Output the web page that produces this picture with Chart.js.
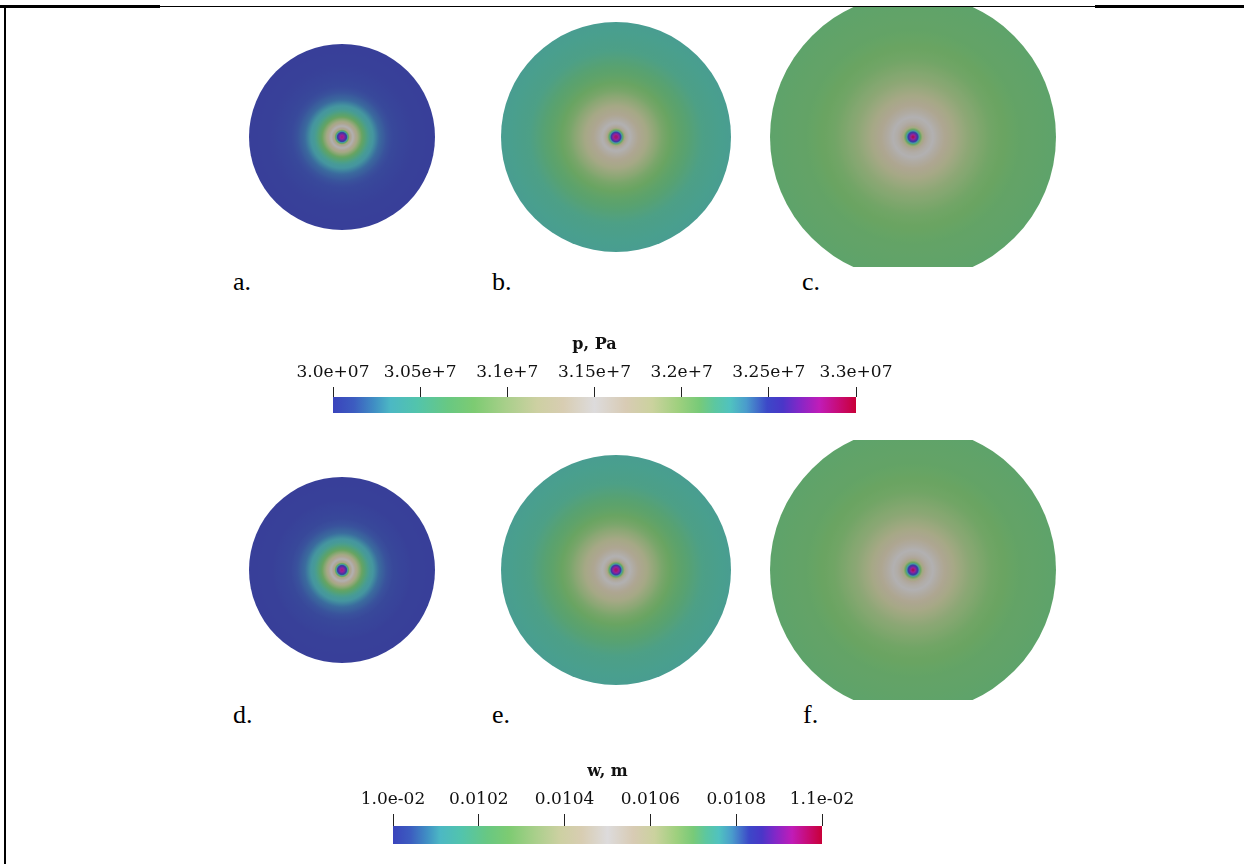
<!DOCTYPE html>
<html>
<head>
<meta charset="utf-8">
<script src="https://cdn.jsdelivr.net/npm/chart.js@4.4.1/dist/chart.umd.min.js"></script>
<style>
  body { margin: 0; width: 1244px; height: 864px; background: #fff; position: relative; overflow: hidden; font-family: "Liberation Serif", serif; }
  canvas { position: absolute; }
  .lbl { position: absolute; font-size: 26px; line-height: 26px; color: #000; }
  .rule { position: absolute; background: #000; }
</style>
</head>
<body>
<div class="rule" style="left:4px;top:5px;width:2px;height:859px"></div>
<div class="rule" style="left:0;top:6px;width:1244px;height:1px"></div>
<div class="rule" style="left:0;top:5px;width:160px;height:3px"></div>
<div class="rule" style="left:1095px;top:5px;width:149px;height:3px"></div>

<canvas id="diskA" width="186" height="186" style="left:249px;top:44px"></canvas>
<canvas id="diskB" width="230" height="230" style="left:501px;top:22px"></canvas>
<canvas id="diskC" width="286" height="260" style="left:770px;top:7px"></canvas>
<canvas id="diskD" width="186" height="186" style="left:249px;top:477px"></canvas>
<canvas id="diskE" width="230" height="230" style="left:501px;top:455px"></canvas>
<canvas id="diskF" width="286" height="260" style="left:770px;top:440px"></canvas>

<div class="lbl" style="left:233px;top:269px">a.</div>
<div class="lbl" style="left:492px;top:269px">b.</div>
<div class="lbl" style="left:802px;top:269px">c.</div>
<div class="lbl" style="left:233px;top:702px">d.</div>
<div class="lbl" style="left:492px;top:702px">e.</div>
<div class="lbl" style="left:803px;top:702px">f.</div>

<canvas id="barP" width="663" height="94" style="left:263px;top:325px"></canvas>
<canvas id="barW" width="569" height="98" style="left:323px;top:752px"></canvas>

<script>
// radial sample positions, r / R of each disk
const radii = [0, 0.015, 0.035, 0.05, 0.065, 0.085, 0.11, 0.14, 0.18, 0.23, 0.3, 0.4, 0.55, 0.75, 1.0];

// pressure p, Pa along the radius (top row)
const pA = [3.285e7, 3.28e7, 3.265e7, 3.25e7, 3.22e7, 3.175e7, 3.155e7, 3.135e7, 3.105e7, 3.07e7, 3.04e7, 3.02e7, 3.006e7, 3.001e7, 3.0e7];
const pB = [3.29e7, 3.285e7, 3.265e7, 3.235e7, 3.2e7, 3.165e7, 3.153e7, 3.145e7, 3.135e7, 3.125e7, 3.11e7, 3.09e7, 3.07e7, 3.052e7, 3.045e7];
const pC = [3.298e7, 3.28e7, 3.25e7, 3.215e7, 3.185e7, 3.165e7, 3.156e7, 3.15e7, 3.14e7, 3.13e7, 3.115e7, 3.1e7, 3.085e7, 3.075e7, 3.07e7];

// opening w, m along the radius (bottom row)
const wD = [0.01095, 0.010933, 0.010883, 0.010833, 0.010733, 0.010583, 0.010517, 0.01045, 0.01035, 0.010233, 0.010133, 0.010067, 0.01002, 0.010003, 0.01];
const wE = [0.010967, 0.01095, 0.010883, 0.010783, 0.010667, 0.01055, 0.01051, 0.010483, 0.01045, 0.010417, 0.010367, 0.0103, 0.010233, 0.010173, 0.01015];
const wF = [0.010993, 0.010933, 0.010833, 0.010717, 0.010617, 0.01055, 0.01052, 0.0105, 0.010467, 0.010433, 0.010383, 0.010333, 0.010283, 0.01025, 0.010233];

// colour bars
const pTicks = [3.0e7, 3.05e7, 3.1e7, 3.15e7, 3.2e7, 3.25e7, 3.3e7];
const pTickLabels = ["3.0e+07", "3.05e+7", "3.1e+7", "3.15e+7", "3.2e+7", "3.25e+7", "3.3e+07"];
const wTicks = [0.01, 0.0102, 0.0104, 0.0106, 0.0108, 0.011];
const wTickLabels = ["1.0e-02", "0.0102", "0.0104", "0.0106", "0.0108", "1.1e-02"];

// colour map (palette)
const cmapPos = [0, 0.04, 0.08, 0.11, 0.16, 0.22, 0.27, 0.33, 0.39, 0.44, 0.5, 0.56, 0.61, 0.66, 0.70, 0.73, 0.76, 0.79, 0.83, 0.86, 0.89, 0.93, 0.97, 1];
const cmapHex = ["#3a44bc", "#3c5cc0", "#4090c4", "#4cb8c4", "#52c4ac", "#68c882", "#7dcb72", "#a8cf8a", "#cdd0a2", "#d8cdb2", "#dddbdc", "#d8cbb4", "#cbd29e", "#9fd07e", "#78ca78", "#5cc7a0", "#50c2c0", "#4a9ccc", "#3c48c8", "#4a36c8", "#8028c8", "#c01cb8", "#c80a70", "#c80038"];

const cmapRgb = cmapHex.map(h => [1, 3, 5].map(i => parseInt(h.substr(i, 2), 16)));

function cmap(f, shade) {
  f = Math.max(0, Math.min(1, f));
  let i = 0;
  while (i < cmapPos.length - 2 && f > cmapPos[i + 1]) i++;
  const t = (f - cmapPos[i]) / (cmapPos[i + 1] - cmapPos[i]);
  const a = cmapRgb[i], b = cmapRgb[i + 1];
  const c = a.map((v, k) => v + (b[k] - v) * t);
  // surface shading of the rendered disks
  const s = shade ? c.map(v => v * 0.75 + 12) : c;
  return "rgb(" + s.map(v => Math.round(v)).join(",") + ")";
}

function diskRadius(chart) {
  const xs = chart.scales.x;
  if (!xs) return 0;
  const r = xs.getPixelForValue(radii[radii.length - 1]) - xs.getPixelForValue(0);
  return isFinite(r) ? r : 0;
}

function diskGradient(c, values, lo, hi) {
  const chart = c.chart;
  const xs = chart.scales.x, ys = chart.scales.y;
  if (!xs || !ys) return "#888";
  const p = c.parsed || { x: 0, y: 0 };
  const cx = xs.getPixelForValue(p.x), cy = ys.getPixelForValue(p.y);
  const r = diskRadius(chart);
  if (!isFinite(cx) || !isFinite(cy) || !(r > 0)) return "#888";
  const g = chart.ctx.createRadialGradient(cx, cy, 0, cx, cy, r);
  const steps = 6;
  for (let i = 0; i < radii.length - 1; i++) {
    for (let k = 0; k < steps; k++) {
      const t = k / steps;
      const rr = radii[i] + (radii[i + 1] - radii[i]) * t;
      const v = values[i] + (values[i + 1] - values[i]) * t;
      g.addColorStop(rr, cmap((v - lo) / (hi - lo), true));
    }
  }
  const n = radii.length - 1;
  g.addColorStop(1, cmap((values[n] - lo) / (hi - lo), true));
  return g;
}

function diskChart(id, values, lo, hi) {
  const el = document.getElementById(id);
  const asp = el.height / el.width;
  return new Chart(el, {
    type: "scatter",
    data: {
      datasets: [{
        data: [{ x: 0, y: 0 }],
        clip: 0,
        pointRadius: c => diskRadius(c.chart),
        pointHoverRadius: c => diskRadius(c.chart),
        pointBorderWidth: 0,
        pointBackgroundColor: c => diskGradient(c, values, lo, hi)
      }]
    },
    options: {
      responsive: false,
      animation: false,
      events: [],
      layout: { padding: 0 },
      plugins: { legend: { display: false }, tooltip: { enabled: false } },
      scales: {
        x: { type: "linear", min: -1, max: 1, display: false },
        y: { type: "linear", min: -asp, max: asp, display: false }
      }
    }
  });
}

function colorbar(id, title, ticks, labels, tickLen, axisHeight) {
  const lo = ticks[0], hi = ticks[ticks.length - 1];
  return new Chart(document.getElementById(id), {
    type: "bar",
    data: {
      labels: [title],
      datasets: [{
        data: [[lo, hi]],
        borderWidth: 0,
        barPercentage: 1,
        categoryPercentage: 1,
        backgroundColor: c => {
          const xs = c.chart.scales.x;
          if (!xs) return "#888";
          const x0 = xs.getPixelForValue(lo), x1 = xs.getPixelForValue(hi);
          if (!isFinite(x0) || !isFinite(x1)) return "#888";
          const g = c.chart.ctx.createLinearGradient(x0, 0, x1, 0);
          cmapPos.forEach((p, i) => g.addColorStop(p, cmapHex[i]));
          return g;
        }
      }]
    },
    options: {
      indexAxis: "y",
      responsive: false,
      animation: false,
      events: [],
      layout: { padding: { left: 70, right: 70, top: 10, bottom: 6 } },
      plugins: { legend: { display: false }, tooltip: { enabled: false } },
      scales: {
        x: {
          type: "linear",
          position: "top",
          min: lo,
          max: hi,
          afterBuildTicks: s => { s.ticks = ticks.map(v => ({ value: v })); },
          afterFit: s => { s.height = axisHeight; },
          ticks: {
            callback: (v, i) => labels[i],
            font: { family: "DejaVu Serif", size: 17 },
            color: "#111",
            padding: 4,
            maxRotation: 0,
            autoSkip: false
          },
          grid: { drawOnChartArea: false, drawTicks: true, tickLength: tickLen, color: "#222", lineWidth: 1 },
          border: { display: false },
          title: {
            display: true,
            text: title,
            font: { family: "DejaVu Serif", size: 16, weight: "bold" },
            color: "#111",
            padding: { top: 0, bottom: 6 }
          }
        },
        y: { display: false }
      }
    }
  });
}

diskChart("diskA", pA, pTicks[0], pTicks[pTicks.length - 1]);
diskChart("diskB", pB, pTicks[0], pTicks[pTicks.length - 1]);
diskChart("diskC", pC, pTicks[0], pTicks[pTicks.length - 1]);
diskChart("diskD", wD, wTicks[0], wTicks[wTicks.length - 1]);
diskChart("diskE", wE, wTicks[0], wTicks[wTicks.length - 1]);
diskChart("diskF", wF, wTicks[0], wTicks[wTicks.length - 1]);

colorbar("barP", "p, Pa", pTicks, pTickLabels, 10, 62);
colorbar("barW", "w, m", wTicks, wTickLabels, 12, 64);
</script>
</body>
</html>
